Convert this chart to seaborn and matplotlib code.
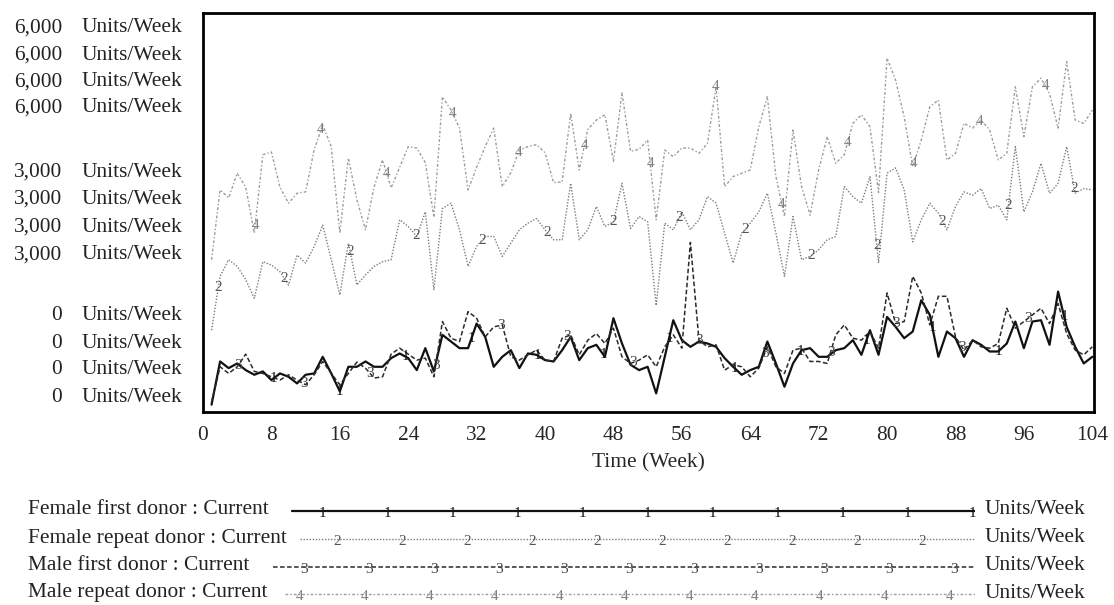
import numpy as np
import pandas as pd
import matplotlib
matplotlib.use("Agg")
import matplotlib.pyplot as plt
import seaborn as sns


# weekly values (week 1 .. 104)
weeks = list(range(1, 105))

female_first = [
    110, 760, 660, 730, 630, 560, 610, 480, 580, 530,
    430, 560, 580, 830, 580, 310, 680, 680, 760, 680,
    680, 810, 880, 810, 630, 960, 610, 1160, 1060, 960,
    960, 1330, 1130, 680, 830, 930, 660, 880, 860, 780,
    760, 930, 1130, 780, 960, 1010, 830, 1410, 1030, 710,
    630, 680, 280, 830, 1380, 1080, 980, 1060, 1030, 980,
    810, 680, 560, 630, 680, 1060, 730, 380, 730, 930,
    960, 830, 830, 930, 960, 1080, 860, 1230, 860, 1430,
    1280, 1110, 1210, 1680, 1460, 830, 1210, 1110, 830, 1080,
    1010, 910, 910, 1030, 1360, 960, 1360, 1380, 1010, 1810,
    1280, 980, 730, 830,
]

female_repeat = [
    1230, 2040, 2290, 2190, 1990, 1710, 2260, 2210, 2110, 1910,
    2360, 2240, 2490, 2810, 2290, 1760, 2540, 1910, 2060, 2190,
    2260, 2290, 2890, 2790, 2640, 3010, 1840, 3060, 3140, 2740,
    2190, 2490, 2640, 2640, 2340, 2540, 2740, 2840, 2910, 2740,
    2590, 2590, 3440, 2590, 2740, 3090, 2790, 2860, 3440, 2760,
    2940, 2860, 1600, 2840, 2740, 3010, 2740, 2890, 3240, 3140,
    2690, 2240, 2690, 2840, 3010, 3290, 2690, 2040, 2940, 2290,
    2340, 2440, 2590, 2640, 3390, 3240, 3140, 3540, 2240, 3590,
    3670, 3340, 2560, 2890, 3140, 2990, 2740, 3090, 3310, 3260,
    3360, 3060, 3110, 2890, 3990, 3010, 3310, 3740, 3290, 3440,
    3990, 3290, 3360, 3340,
]

male_first = [
    150, 680, 580, 680, 870, 610, 580, 530, 480, 560,
    480, 410, 560, 760, 580, 410, 580, 750, 660, 510,
    530, 870, 960, 870, 780, 810, 530, 1360, 1110, 1060,
    1510, 1410, 1130, 1280, 1310, 830, 780, 860, 930, 780,
    760, 1110, 1160, 860, 1080, 1180, 1030, 1260, 830, 730,
    780, 860, 680, 980, 1160, 960, 2550, 1080, 980, 1010,
    630, 710, 680, 530, 660, 980, 680, 580, 930, 960,
    760, 760, 730, 1160, 1310, 1110, 1080, 1210, 960, 1790,
    1330, 1360, 2040, 1790, 1310, 1740, 1740, 1130, 930, 1080,
    980, 960, 1030, 1560, 1260, 1360, 1460, 1560, 1330, 1630,
    1180, 930, 860, 980,
]

male_repeat = [
    2290, 3340, 3220, 3590, 3380, 2690, 3870, 3910, 3380, 3140,
    3290, 3310, 3940, 4320, 3990, 2690, 3820, 3190, 2740, 3380,
    3790, 3370, 3680, 3990, 3970, 3750, 2930, 4740, 4540, 4270,
    3340, 3680, 3990, 4270, 3390, 3600, 3940, 3990, 4020, 3900,
    3450, 3460, 4490, 3640, 4250, 4390, 4470, 3770, 4800, 3920,
    3950, 4090, 2890, 3940, 3840, 3970, 3970, 3890, 4040, 4890,
    3390, 3540, 3590, 3640, 4290, 4740, 3540, 2940, 4240, 3390,
    2960, 3640, 4140, 3740, 3870, 4340, 4470, 4290, 3300, 5320,
    4990, 4440, 3690, 4090, 4590, 4690, 3790, 3890, 4340, 4270,
    4390, 4240, 3790, 3890, 4890, 4140, 4890, 5020, 4790, 4270,
    5270, 4390, 4340, 4540,
]

series_names = [
    "Female first donor : Current",
    "Female repeat donor : Current",
    "Male first donor : Current",
    "Male repeat donor : Current",
]
unit = "Units/Week"
y_tick_values = [6000, 3000, 0]
x_ticks = list(range(0, 105, 8))

W, H = 1114, 605
SERIF = ["Liberation Serif", "DejaVu Serif"]
FS = 15.4

STYLES = [
    dict(color="#111111", lw=1.6, ls="-"),
    dict(color="#7d7d7d", lw=1.0, ls=(0, (1, 1.2))),
    dict(color="#2a2a2a", lw=1.1, ls=(0, (3, 1.6))),
    dict(color="#9c9c9c", lw=1.0, ls=(0, (2, 1.5, 1, 1.5))),
]
LABEL_COLORS = ["#111111", "#555555", "#444444", "#808080"]
LABEL_START = [8.3, 1.8, 4.1, 6.1]
LABEL_STEP = 7.7


def fig_box(x0, y0, x1, y1):
    return [x0 / W, 1 - y1 / H, (x1 - x0) / W, (y1 - y0) / H]


def main():
    sns.set_style("white")
    plt.rcParams["font.family"] = SERIF

    fig = plt.figure(figsize=(W / 100, H / 100), dpi=100)
    ax = fig.add_axes(fig_box(203, 13, 1094, 412))

    df = pd.DataFrame({
        "week": weeks * 4,
        "value": female_first + female_repeat + male_first + male_repeat,
        "series": np.repeat(series_names, len(weeks)),
    })

    all_series = [female_first, female_repeat, male_first, male_repeat]
    for i, name in enumerate(series_names):
        sub = df[df["series"] == name]
        st = STYLES[i]
        sns.lineplot(data=sub, x="week", y="value", ax=ax, color=st["color"],
                     linewidth=st["lw"], linestyle=st["ls"], legend=False)
        # Vensim-style number marks along each line
        pos = np.arange(LABEL_START[i], 104, LABEL_STEP)
        for p in pos:
            yv = np.interp(p, weeks, all_series[i])
            ax.text(p, yv, str(i + 1), ha="center", va="center", fontsize=11,
                    color=LABEL_COLORS[i], family=SERIF)

    ax.set_xlim(0, 104.2)
    ax.set_ylim(0, 6000)
    ax.set_xticks(x_ticks)
    ax.set_xticklabels([str(t) for t in x_ticks], fontsize=FS, family=SERIF)
    ax.tick_params(axis="x", length=0, pad=10)
    ax.set_yticks([])
    ax.set_xlabel("Time (Week)", fontsize=FS, family=SERIF, labelpad=6)
    ax.set_ylabel("")
    for sp in ax.spines.values():
        sp.set_visible(True)
        sp.set_color("black")
        sp.set_linewidth(2.0)

    # stacked y labels, one per series at each scale value
    label_rows = {6000: [28, 55, 82, 108], 3000: [172, 199, 227, 255], 0: [315, 343, 370, 397]}
    for v in y_tick_values:
        for ypx in label_rows[v]:
            fig.text(62 / W, 1 - ypx / H, f"{v:,}", ha="right", va="center",
                     fontsize=FS, family=SERIF, color="#222222")
            fig.text(82 / W, 1 - ypx / H, unit, ha="left", va="center",
                     fontsize=FS, family=SERIF, color="#222222")

    # legend block
    rows = [510, 538, 566, 593]
    line_starts = [292, 300, 273, 285]
    digit_starts = [322, 337, 304, 300]
    legx0, legx1 = 270, 975
    leg = fig.add_axes(fig_box(legx0, 497, legx1, 605))
    leg.set_xlim(legx0, legx1)
    leg.set_ylim(605, 497)
    leg.axis("off")
    for i, name in enumerate(series_names):
        st = STYLES[i]
        y = rows[i]
        leg.plot([line_starts[i], legx1], [y + 1, y + 1], color=st["color"],
                 linewidth=st["lw"], linestyle=st["ls"])
        for p in np.arange(digit_starts[i], legx1 + 1, 65):
            leg.text(p, y + 3, str(i + 1), ha="center", va="center", fontsize=11,
                     color=LABEL_COLORS[i], family=SERIF)
        fig.text(28 / W, 1 - y / H, name, ha="left", va="center",
                 fontsize=FS, family=SERIF, color="#222222")
        fig.text(985 / W, 1 - y / H, unit, ha="left", va="center",
                 fontsize=FS, family=SERIF, color="#222222")

    fig.savefig("out.png", dpi=100, facecolor="white")
    plt.close(fig)


if __name__ == "__main__":
    main()
